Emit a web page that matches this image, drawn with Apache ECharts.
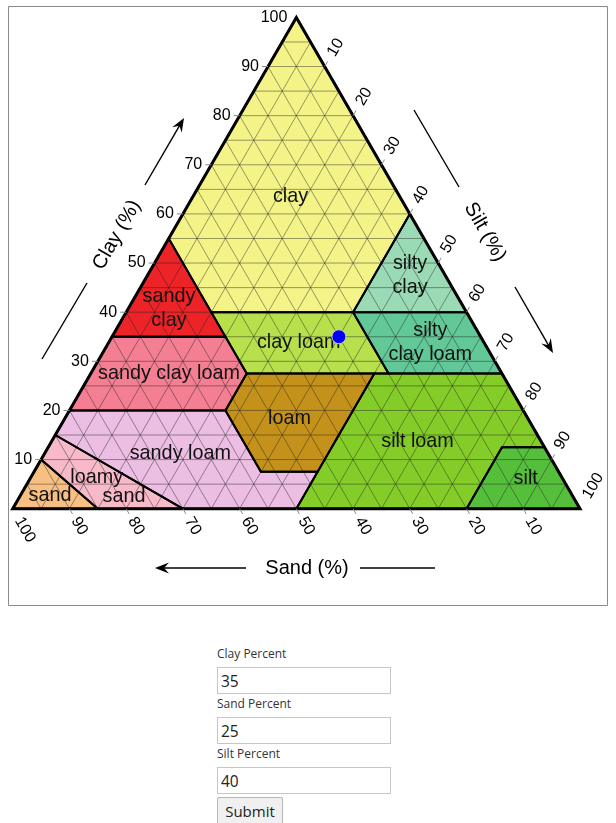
<!DOCTYPE html>
<html>
<head>
<meta charset="utf-8">
<script src="https://cdn.jsdelivr.net/npm/echarts@6/dist/echarts.min.js"></script>
<style>
html,body{margin:0;padding:0;background:#fff;}
#chart{position:absolute;left:0;top:0;width:616px;height:612px;}
.lbl{position:absolute;left:217px;font-family:"Open Sans",sans-serif;font-size:12px;line-height:16px;color:#333;}
.inp{position:absolute;left:217px;width:174px;height:27px;box-sizing:border-box;border:1px solid #c6c6c6;margin:0;padding:0 0 0 3px;font-family:"Open Sans",sans-serif;font-size:15.5px;color:#222;background:#fff;}
.btn{position:absolute;left:217px;top:797px;width:66px;height:28px;box-sizing:border-box;border:1px solid #b5b5b5;border-radius:2px;background:#f0f0f0;font-family:"Open Sans",sans-serif;font-size:15px;color:#222;padding:0;margin:0;}
</style>
</head>
<body>
<div id="chart"></div>
<div class="lbl" style="top:646px;">Clay Percent</div>
<input class="inp" style="top:667px;" value="35">
<div class="lbl" style="top:696px;">Sand Percent</div>
<input class="inp" style="top:717px;" value="25">
<div class="lbl" style="top:746px;">Silt Percent</div>
<input class="inp" style="top:767px;" value="40">
<button class="btn">Submit</button>
<script>
// ---- data (vertices as [clay, sand, silt] percentages) ----
const clayPoly          = [[100,0,0],[55,45,0],[40,45,15],[40,20,40],[60,0,40]];
const sandyClayPoly     = [[55,45,0],[35,65,0],[35,45,20]];
const siltyClayPoly     = [[60,0,40],[40,20,40],[40,0,60]];
const clayLoamPoly      = [[40,45,15],[40,20,40],[27.5,20,52.5],[27.5,45,27.5],[35,45,20]];
const siltyClayLoamPoly = [[40,20,40],[40,0,60],[27.5,0,72.5],[27.5,20,52.5]];
const sandyClayLoamPoly = [[35,65,0],[35,45,20],[27.5,45,27.5],[20,52.5,27.5],[20,80,0]];
const loamPoly          = [[27.5,45,27.5],[27.5,22.5,50],[7.5,42.5,50],[7.5,52.5,40],[20,52.5,27.5]];
const siltLoamPoly      = [[27.5,22.5,50],[27.5,0,72.5],[12.5,0,87.5],[12.5,7.5,80],[0,20,80],[0,50,50],[7.5,42.5,50]];
const siltPoly          = [[12.5,7.5,80],[12.5,0,87.5],[0,0,100],[0,20,80]];
const sandyLoamPoly     = [[20,80,0],[20,52.5,27.5],[7.5,52.5,40],[7.5,42.5,50],[0,50,50],[0,70,30],[15,85,0]];
const loamySandPoly     = [[15,85,0],[0,70,30],[0,85,15],[10,90,0]];
const sandPoly          = [[10,90,0],[0,85,15],[0,100,0]];

const regionPolys  = [clayPoly, sandyClayPoly, siltyClayPoly, clayLoamPoly, siltyClayLoamPoly, sandyClayLoamPoly, loamPoly, siltLoamPoly, siltPoly, sandyLoamPoly, loamySandPoly, sandPoly];
const regionColors = ['#f3f388','#ec2428','#9adbb6','#b7e04c','#63c898','#f47f93','#c4921b','#84cd29','#55bf3b','#ecbee3','#f8b9c9','#f8bf83'];

const labelText = ['clay','sandy\nclay','silty\nclay','clay loam','silty\nclay loam','sandy clay loam','loam','silt loam','silt','sandy loam','loamy','sand','sand'];
const labelClay = [63.44, 40.79, 47.47, 33.83, 33.83, 27.42, 18.26, 13.68, 6.05, 11.13, 6.25, 2.48, 2.58];
const labelSilt = [17.25, 7.15, 46.3, 33.5, 56.7, 13.84, 39.66, 64.52, 87.4, 23.98, 11.68, 18.38, 5.29];

const gridSteps  = [5,10,15,20,25,30,35,40,45,50,55,60,65,70,75,80,85,90,95];
const tickValues = [10,20,30,40,50,60,70,80,90,100];
const tickLabels = ['10','20','30','40','50','60','70','80','90','100'];

const sampleClay = [35];
const sampleSand = [25];
const sampleSilt = [40];

// ---- helpers ----
function tern(clay, silt) { return [silt + clay / 2, clay]; }
const FONT = '"Liberation Sans", Arial, sans-serif';
const S3 = Math.sqrt(3) / 2;

function arrowHead(tx, ty, dx, dy) {
  const L = 14, w = 5.5, n = 9;
  const px = -dy, py = dx;
  return [[tx, ty], [tx - L*dx + w*px, ty - L*dy + w*py], [tx - n*dx, ty - n*dy], [tx - L*dx - w*px, ty - L*dy - w*py]];
}
function arrow(x1, y1, tx, ty) {
  const len = Math.hypot(tx - x1, ty - y1);
  const dx = (tx - x1) / len, dy = (ty - y1) / len;
  return [
    {type:'line', silent:true, shape:{x1:x1, y1:y1, x2:tx - 8*dx, y2:ty - 8*dy}, style:{stroke:'#000', lineWidth:1.4}},
    {type:'polygon', silent:true, shape:{points:arrowHead(tx, ty, dx, dy)}, style:{fill:'#000'}}
  ];
}
function plainLine(x1, y1, x2, y2) {
  return {type:'line', silent:true, shape:{x1:x1, y1:y1, x2:x2, y2:y2}, style:{stroke:'#000', lineWidth:1.4}};
}

const chart = echarts.init(document.getElementById('chart'));

const option = {
  animation: false,
  grid: {left: 12.7, top: 17.4, width: 567.3, height: 491.3},
  xAxis: {type:'value', min:0, max:100, show:false},
  yAxis: {type:'value', min:0, max:100, show:false},
  graphic: [
    {type:'rect', silent:true, shape:{x:8.5, y:6.5, width:599, height:599}, style:{fill:'none', stroke:'#8a8a8a', lineWidth:1}},
    {type:'text', silent:true, x:117, y:235, rotation:Math.PI/3,
      style:{text:'Clay (%)', font:'20px ' + FONT, fill:'#000', align:'center', verticalAlign:'middle', textAlign:'center', textVerticalAlign:'middle'}},
    {type:'text', silent:true, x:485, y:232, rotation:-Math.PI/3,
      style:{text:'Silt (%)', font:'20px ' + FONT, fill:'#000', align:'center', verticalAlign:'middle', textAlign:'center', textVerticalAlign:'middle'}},
    {type:'text', silent:true, x:307, y:568,
      style:{text:'Sand (%)', font:'20px ' + FONT, fill:'#000', align:'center', verticalAlign:'middle', textAlign:'center', textVerticalAlign:'middle'}},
    ...arrow(145, 185, 184, 118),
    plainLine(42, 359, 87, 283),
    plainLine(414, 110, 459, 187),
    ...arrow(515, 287, 553, 353),
    ...arrow(246, 568, 155, 568),
    plainLine(360, 568, 435, 568)
  ],
  series: [
    { // region fills
      type:'custom', coordinateSystem:'cartesian2d', silent:true, z:1,
      data: regionPolys.map((p, i) => [i, 0]),
      renderItem: function (params, api) {
        const i = params.dataIndex;
        const pts = regionPolys[i].map(v => api.coord(tern(v[0], v[2])));
        return {type:'polygon', shape:{points:pts}, style:{fill:regionColors[i], stroke:null}};
      }
    },
    { // grid lines
      type:'custom', coordinateSystem:'cartesian2d', silent:true, z:2,
      data: gridSteps.map(k => [k, 0]),
      renderItem: function (params, api) {
        const k = gridSteps[params.dataIndex];
        const st = {stroke:'rgba(30,30,30,0.55)', lineWidth:0.8};
        const seg = (a, b) => ({type:'line', shape:{x1:a[0], y1:a[1], x2:b[0], y2:b[1]}, style:st});
        return {type:'group', children:[
          seg(api.coord(tern(k, 0)), api.coord(tern(k, 100 - k))),
          seg(api.coord(tern(0, 100 - k)), api.coord(tern(100 - k, 0))),
          seg(api.coord(tern(0, k)), api.coord(tern(100 - k, k)))
        ]};
      }
    },
    { // region outlines
      type:'custom', coordinateSystem:'cartesian2d', silent:true, z:3,
      data: regionPolys.map((p, i) => [i, 0]),
      renderItem: function (params, api) {
        const i = params.dataIndex;
        const pts = regionPolys[i].map(v => api.coord(tern(v[0], v[2])));
        return {type:'polygon', shape:{points:pts}, style:{fill:null, stroke:'#000', lineWidth:2}};
      }
    },
    { // outer triangle
      type:'custom', coordinateSystem:'cartesian2d', silent:true, z:4,
      data: [[0, 0]],
      renderItem: function (params, api) {
        const pts = [api.coord(tern(100, 0)), api.coord(tern(0, 0)), api.coord(tern(0, 100))];
        return {type:'polygon', shape:{points:pts}, style:{fill:null, stroke:'#000', lineWidth:3, lineJoin:'miter'}};
      }
    },
    { // ticks and tick labels
      type:'custom', coordinateSystem:'cartesian2d', silent:true, z:5,
      data: tickValues.map(v => [v, 0]),
      renderItem: function (params, api) {
        const v = tickValues[params.dataIndex];
        const t = tickLabels[params.dataIndex];
        const tickSt = {stroke:'#888', lineWidth:1};
        const font = '16px ' + FONT;
        const children = [];
        const pc = api.coord(tern(v, 0));           // clay on left edge
        const ps = api.coord(tern(0, 100 - v));     // sand on bottom edge
        const pt = api.coord(tern(100 - v, v));     // silt on right edge
        if (v < 100) {
          children.push({type:'line', shape:{x1:pc[0] - 6, y1:pc[1], x2:pc[0], y2:pc[1]}, style:tickSt});
          children.push({type:'line', shape:{x1:ps[0], y1:ps[1], x2:ps[0] + 6*0.5, y2:ps[1] + 6*S3}, style:tickSt});
          children.push({type:'line', shape:{x1:pt[0], y1:pt[1], x2:pt[0] + 6*0.5, y2:pt[1] - 6*S3}, style:tickSt});
        }
        children.push({type:'text', x:pc[0] - 9, y:pc[1],
          style:{text:t, font:font, fill:'#000', align:'right', verticalAlign:'middle', textAlign:'right', textVerticalAlign:'middle'}});
        children.push({type:'text', x:ps[0] + 11*0.5, y:ps[1] + 11*S3, rotation:-Math.PI/3,
          style:{text:t, font:font, fill:'#000', align:'left', verticalAlign:'middle', textAlign:'left', textVerticalAlign:'middle'}});
        children.push({type:'text', x:pt[0] + 13*0.5, y:pt[1] - 13*S3, rotation:Math.PI/3,
          style:{text:t, font:font, fill:'#000', align:'left', verticalAlign:'middle', textAlign:'left', textVerticalAlign:'middle'}});
        return {type:'group', children:children};
      }
    },
    { // region labels
      type:'custom', coordinateSystem:'cartesian2d', silent:true, z:6,
      data: labelText.map((s, i) => [i, 0]),
      renderItem: function (params, api) {
        const i = params.dataIndex;
        const p = api.coord(tern(labelClay[i], labelSilt[i]));
        return {type:'text', x:p[0], y:p[1],
          style:{text:labelText[i], font:'19.8px ' + FONT, lineHeight:24.5, fill:'#111',
            align:'center', verticalAlign:'middle', textAlign:'center', textVerticalAlign:'middle'}};
      }
    },
    { // sample point
      type:'scatter', z:7, silent:true,
      symbol:'circle', symbolSize:14,
      itemStyle:{color:'#0000ff', borderColor:'#cfcfcf', borderWidth:1, opacity:1},
      data: sampleClay.map((c, i) => tern(c, sampleSilt[i]).concat([sampleSand[i]]))
    }
  ]
};
chart.setOption(option);
</script>
</body>
</html>
